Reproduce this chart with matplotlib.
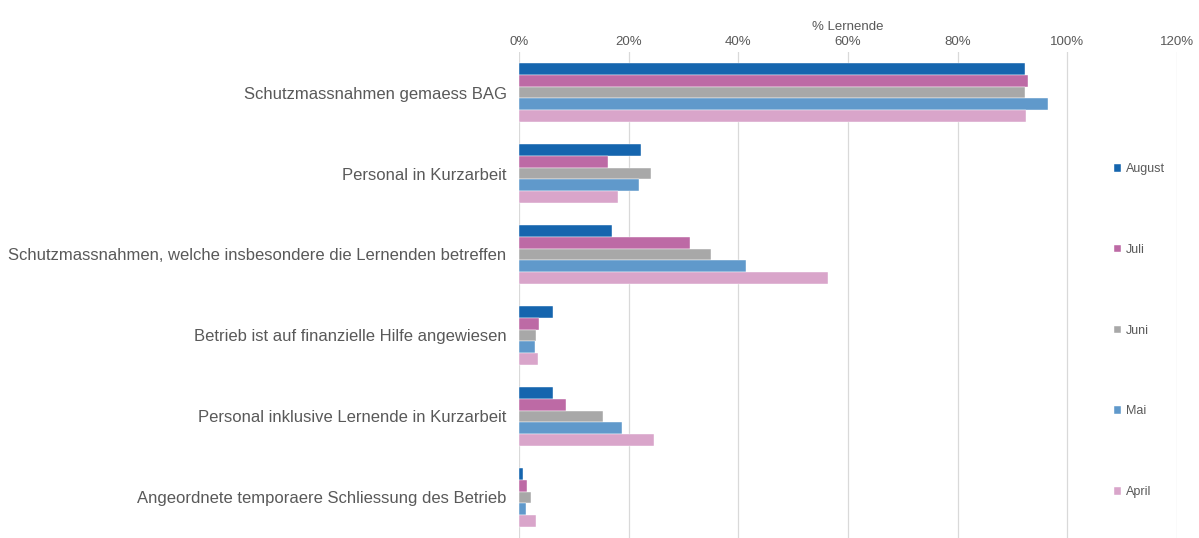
import numpy as np
import matplotlib.pyplot as plt
from matplotlib.ticker import FuncFormatter

plt.rcParams['font.family'] = ['Liberation Sans', 'DejaVu Sans']

# categories from top to bottom
kategorien = ["Schutzmassnahmen gemaess BAG",
              "Personal in Kurzarbeit",
              "Schutzmassnahmen, welche insbesondere die Lernenden betreffen",
              "Betrieb ist auf finanzielle Hilfe angewiesen",
              "Personal inklusive Lernende in Kurzarbeit",
              "Angeordnete temporaere Schliessung des Betrieb"]

monate = ["August", "Juli", "Juni", "Mai", "April"]

# share of apprentices (fraction), same order as kategorien
august = [0.922, 0.223, 0.170, 0.062, 0.062, 0.008]
juli = [0.928, 0.162, 0.311, 0.037, 0.085, 0.015]
juni = [0.922, 0.241, 0.350, 0.031, 0.153, 0.022]
mai = [0.964, 0.218, 0.414, 0.029, 0.188, 0.013]
april = [0.925, 0.180, 0.564, 0.034, 0.246, 0.031]

werte = [august, juli, juni, mai, april]
farben = ["#1565ae", "#bd6aa5", "#a8a8a8", "#6099cb", "#d9a5ca"]

fig = plt.figure(figsize=(11.99, 5.38), dpi=100)
ax = fig.add_axes([519 / 1199, 0.0, (1177 - 519) / 1199, 1 - 52 / 538])

y = np.arange(len(kategorien))
h = 0.147
handles = []
for i, (m, w, c) in enumerate(zip(monate, werte, farben)):
    b = ax.barh(y + (i - 2) * h, w, height=h, color=c, label=m, zorder=3,
                edgecolor="white", linewidth=0.3)
    handles.append(b)

ax.set_ylim(len(kategorien) - 0.5, -0.5)
ax.set_xlim(0, 1.2)
ax.set_xticks(np.arange(0, 1.21, 0.2))
ax.xaxis.set_major_formatter(FuncFormatter(lambda v, p: "{:.0f}%".format(v * 100)))
ax.xaxis.tick_top()
ax.xaxis.set_label_position("top")
ax.set_xlabel("% Lernende", fontsize=9.5, color="#595959", labelpad=4)
ax.tick_params(axis="x", length=0, labelsize=9.5, labelcolor="#595959", pad=3)
ax.set_yticks(y)
ax.set_yticklabels(kategorien, fontsize=12, color="#595959")
ax.tick_params(axis="y", length=0, pad=9)
ax.grid(axis="x", color="#d9d9d9", linewidth=0.9, zorder=0)
for s in ax.spines.values():
    s.set_visible(False)

leg = ax.legend(handles=handles, loc="upper left", bbox_to_anchor=(1108 / 1199, 1 - 157 / 538),
                bbox_transform=fig.transFigure, frameon=False, fontsize=9,
                handlelength=0.55, handleheight=0.55, handletextpad=0.4,
                labelspacing=5.5, borderpad=0)
for t in leg.get_texts():
    t.set_color("#595959")

fig.savefig("out.png", dpi=100)
